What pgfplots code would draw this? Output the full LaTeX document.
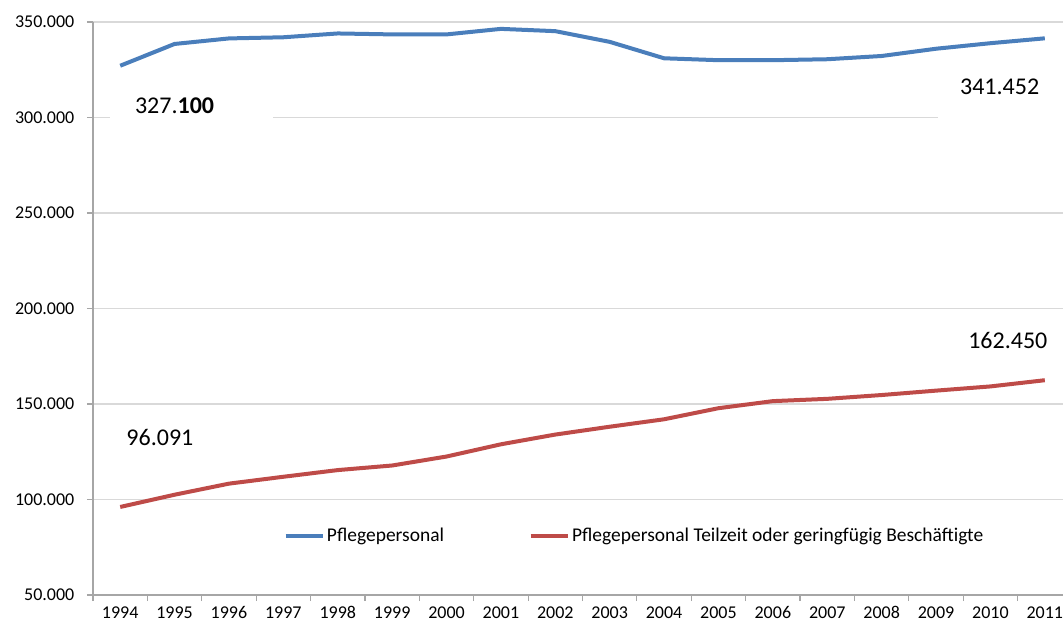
\documentclass[border=0pt]{standalone}
\usepackage{fontspec}
\setmainfont{Carlito}
\usepackage{pgfplots}
\pgfplotsset{compat=1.18}
\definecolor{blueline}{HTML}{4A7EBB}
\definecolor{redline}{HTML}{BE4B48}
\definecolor{gridc}{HTML}{D9D9D9}
\definecolor{axisc}{HTML}{A6A6A6}
\begin{document}
\begin{tikzpicture}
\begin{axis}[
scale only axis,
width=734.25pt, height=429.75pt,
xmin=-0.5, xmax=17.5,
ymin=50000, ymax=350000,
scaled y ticks=false, scaled x ticks=false,
ytick={50000,100000,...,350000},
yticklabels={50.000,100.000,150.000,200.000,250.000,300.000,350.000},
xtick={-0.5,0.5,...,17.5},
x tick label as interval,
xticklabels={1994,1995,1996,1997,1998,1999,2000,2001,2002,2003,2004,2005,2006,2007,2008,2009,2010,2011},
ymajorgrids,
major grid style={gridc, line width=0.9pt},
axis x line*=bottom, axis y line*=left,
axis line style={axisc, line width=0.9pt, -},
tick align=outside,
major tick length=4.5pt,
tick style={axisc, line width=0.9pt},
ticklabel style={font=\fontsize{13.5}{16}\selectfont, text=black},
x tick label style={text height=9.5pt, text depth=0pt},
y tick label style={xshift=-6pt},
legend style={draw=none, fill=none, at={(rel axis cs:0.553,0.103)}, anchor=center,
  font=\fontsize{14.6}{17}\selectfont, nodes={inner xsep=1.5pt},
  /tikz/every even column/.append style={column sep=62pt}},
legend columns=2,
legend image code/.code={\draw[#1] (0pt,0pt) -- (28pt,0pt);},
]
\addplot[blueline, line width=3pt] coordinates {
(0,327100) (1,338500) (2,341400) (3,342000) (4,344000) (5,343500) (6,343500)
(7,346400) (8,345200) (9,339600) (10,331000) (11,330000) (12,330000) (13,330500)
(14,332200) (15,336000) (16,338900) (17,341452)};
\addlegendentry{Pflegepersonal}
\addplot[redline, line width=3pt] coordinates {
(0,96091) (1,102500) (2,108300) (3,111900) (4,115400) (5,117800) (6,122500)
(7,128900) (8,134000) (9,138100) (10,142000) (11,147800) (12,151500) (13,152700)
(14,154700) (15,157000) (16,159200) (17,162450)};
\addlegendentry{Pflegepersonal Teilzeit oder geringfügig Beschäftigte}
\fill[white] (axis cs:-0.19,294000) rectangle (axis cs:2.81,318000);
\fill[white] (axis cs:15.03,294000) rectangle (axis cs:17.6,318000);
\node[font=\fontsize{18}{21}\selectfont] at (axis cs:1.0,306000) {327.\textbf{100}};
\node[font=\fontsize{18}{21}\selectfont] at (axis cs:16.17,316000) {341.452};
\node[font=\fontsize{18}{21}\selectfont] at (axis cs:0.73,132700) {96.091};
\node[font=\fontsize{18}{21}\selectfont] at (axis cs:16.32,183000) {162.450};
\end{axis}
\pgfresetboundingbox
\path[use as bounding box] ([xshift=-69.75pt, yshift=-24.75pt]current axis.south west) rectangle ([xshift=-6.75pt, yshift=16.5pt]current axis.north east);
\end{tikzpicture}
\end{document}
